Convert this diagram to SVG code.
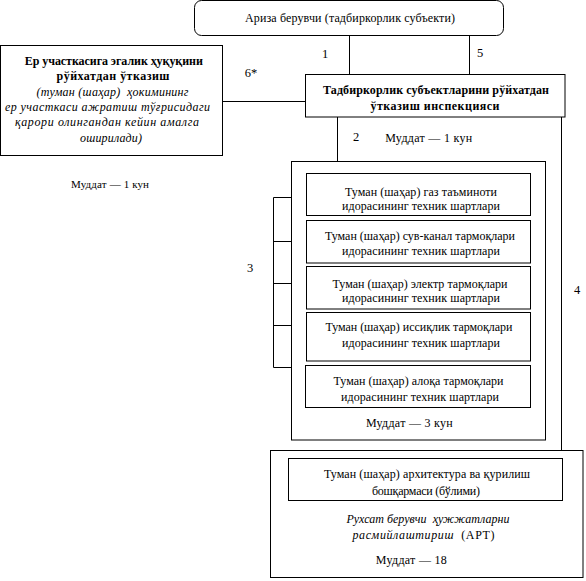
<svg xmlns="http://www.w3.org/2000/svg" width="586" height="581" viewBox="0 0 586 581">
<style>
text{font-family:"Liberation Serif","Times New Roman",serif;font-size:12px;fill:#000;text-anchor:middle;white-space:pre}
.b{font-weight:bold}
.i{font-style:italic}
.s{font-size:11px}
.m{font-size:12.5px}
rect{fill:#fff;stroke:#000;stroke-width:1}
line{stroke:#000;stroke-width:1}
</style>
<rect x="0" y="0" width="586" height="581" style="stroke:none"/>
<g id="connectors">
<line x1="349.5" y1="36" x2="349.5" y2="74"/>
<line x1="469.5" y1="36" x2="469.5" y2="74"/>
<line x1="222.5" y1="101.5" x2="305.5" y2="101.5"/>
<line x1="337.5" y1="117" x2="337.5" y2="173.5"/>
<line x1="561.5" y1="117" x2="561.5" y2="451"/>
<line x1="273.5" y1="197.5" x2="273.5" y2="367.5"/>
<line x1="273.5" y1="197.5" x2="291.5" y2="197.5"/>
<line x1="273.5" y1="241.5" x2="291.5" y2="241.5"/>
<line x1="273.5" y1="283.5" x2="291.5" y2="283.5"/>
<line x1="273.5" y1="325.5" x2="291.5" y2="325.5"/>
<line x1="273.5" y1="367.5" x2="291.5" y2="367.5"/>
<text class="m" x="325" y="58">1</text>
<text class="m" x="480" y="57">5</text>
<text class="m" x="251" y="77">6*</text>
<text class="m" x="356" y="141">2</text>
<text class="m" x="250" y="272">3</text>
<text class="m" x="577" y="294">4</text>
</g>
<g id="applicant">
<rect x="194.5" y="0.5" width="309" height="35" rx="7"/>
<text x="350" y="21.5" textLength="210">Ариза берувчи (тадбиркорлик субъекти)</text>
</g>
<g id="inspection">
<rect x="305.5" y="74.5" width="259.5" height="42.5"/>
<text class="b" x="436" y="94" textLength="226">Тадбиркорлик субъектларини рўйхатдан</text>
<text class="b" x="435" y="109.5" textLength="129">ўтказиш инспекцияси</text>
</g>
<text x="428.7" y="142" textLength="87">Муддат — 1 кун</text>
<g id="land">
<rect x="0.5" y="45.5" width="222" height="110"/>
<text class="b" x="113.8" y="64.5" textLength="178">Ер участкасига эгалик ҳуқуқини</text>
<text class="b" x="113" y="80" textLength="113">рўйхатдан ўтказиш</text>
<text class="i" x="112.5" y="95.5" textLength="152">(туман (шаҳар)  ҳокимининг</text>
<text class="i" x="107.5" y="110.5" textLength="205">ер участкаси ажратиш тўғрисидаги</text>
<text class="i" x="107" y="126" textLength="184">қарори олингандан кейин амалга</text>
<text class="i" x="111" y="141.5" textLength="62">оширилади)</text>
</g>
<text class="s" x="110" y="188" textLength="78">Муддат — 1 кун</text>
<g id="conditions">
<rect x="291.5" y="161.5" width="254" height="278.5"/>
<text x="409.3" y="427" textLength="86.7">Муддат — 3 кун</text>
</g>
<g id="gas">
<rect x="306.5" y="173.5" width="224" height="42"/>
<text x="421" y="196" textLength="152">Туман (шаҳар) газ таъминоти</text>
<text x="421" y="210" textLength="158">идорасининг техник шартлари</text>
</g>
<g id="water">
<rect x="306.5" y="220.5" width="224" height="42.5"/>
<text x="420" y="240" textLength="190">Туман (шаҳар) сув-канал тармоқлари</text>
<text x="421" y="254.5" textLength="158">идорасининг техник шартлари</text>
</g>
<g id="electric">
<rect x="306.5" y="266.5" width="224" height="42.5"/>
<text x="420" y="287.5" textLength="175">Туман (шаҳар) электр тармоқлари</text>
<text x="421" y="301.5" textLength="158">идорасининг техник шартлари</text>
</g>
<g id="heat">
<rect x="306.5" y="312.5" width="224" height="48.5"/>
<text x="419" y="331" textLength="187">Туман (шаҳар) иссиқлик тармоқлари</text>
<text x="421" y="347" textLength="158">идорасининг техник шартлари</text>
</g>
<g id="comm">
<rect x="305.5" y="365.5" width="225" height="42"/>
<text x="418.5" y="385" textLength="170">Туман (шаҳар) алоқа тармоқлари</text>
<text x="420" y="400.5" textLength="158">идорасининг техник шартлари</text>
</g>
<g id="art">
<rect x="270.5" y="450.5" width="312.5" height="127"/>
<text class="i" x="428" y="523" textLength="163">Рухсат берувчи  ҳужжатларни</text>
<text x="423.5" y="539" textLength="142"><tspan class="i">расмийлаштириш</tspan>  (АРТ)</text>
<text x="411.3" y="563.5" textLength="71">Муддат — 18</text>
</g>
<g id="architecture">
<rect x="288.5" y="458.5" width="274" height="42"/>
<text x="427" y="478" textLength="206">Туман (шаҳар) архитектура ва қурилиш</text>
<text x="426" y="494.5" textLength="108">бошқармаси (бўлими)</text>
</g>
</svg>
